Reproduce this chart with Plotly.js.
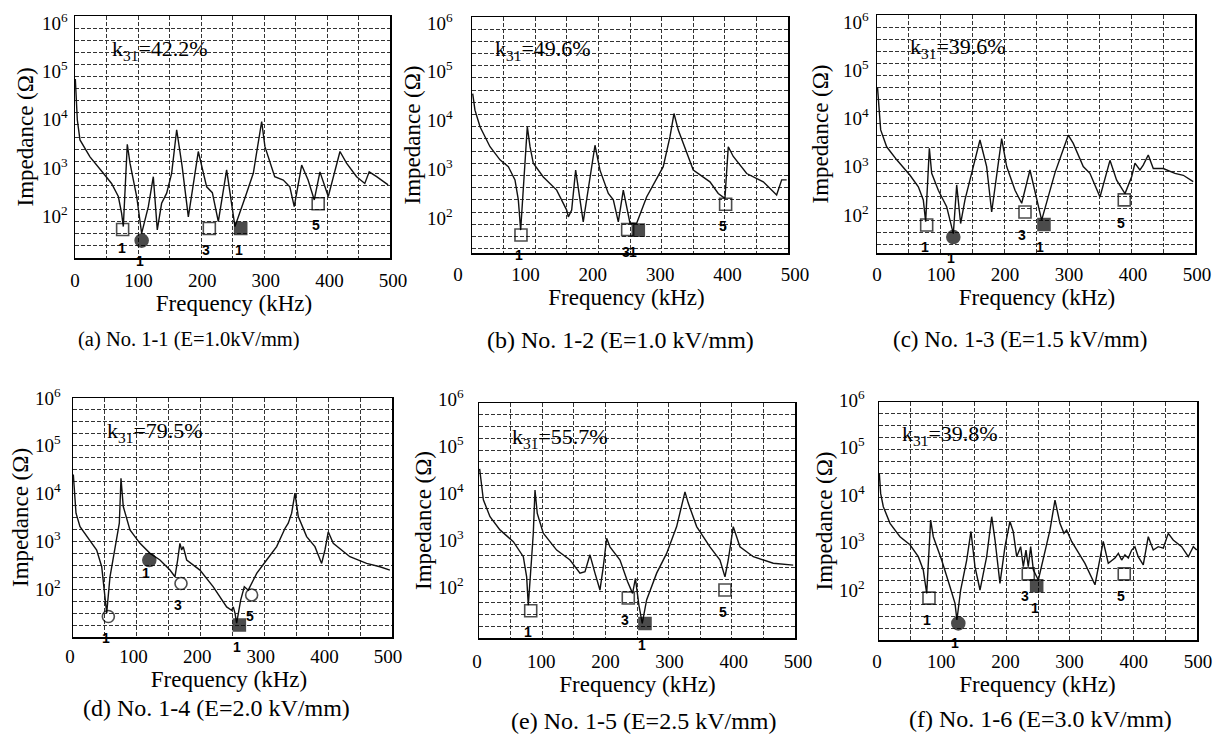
<!DOCTYPE html>
<html><head><meta charset="utf-8">
<script src="https://cdn.plot.ly/plotly-3.0.1.min.js"></script>
<style>html,body{margin:0;padding:0;background:#fff}#chart{width:1227px;height:734px}</style>
</head><body><div id="chart"></div>
<script>
// ---------------- DATA ----------------
const freqTickVals = [0, 100, 200, 300, 400, 500];
const freqTickText = ['0', '100', '200', '300', '400', '500'];
const freqGridVals = [0, 50, 100, 150, 200, 250, 300, 350, 400, 450, 500];
const logMinorExp = [1.25, 1.5, 1.75, 2.25, 2.5, 2.75, 3.25, 3.5, 3.75, 4.25, 4.5, 4.75, 5.25, 5.5, 5.75];
const decadeExp = [2, 3, 4, 5, 6];
const decadeText = ['10<sup>2</sup>', '10<sup>3</sup>', '10<sup>4</sup>', '10<sup>5</sup>', '10<sup>6</sup>'];

// impedance curves: frequency (kHz) and log10(|Z| / ohm)
const fA = [0.5, 3.7, 7.9, 13.2, 23.8, 45, 58, 68.8, 74, 76.7, 83, 87.3, 97.9, 105.8, 116.4, 124.3, 130.6, 137.5, 145.5, 153.4, 161.4, 170, 179.9, 195.7, 209, 218, 227.5, 240.7, 253.9, 270, 283, 296.3, 301.5, 317, 330.6, 341, 348, 359.8, 370, 379.8, 388.8, 402, 420.6, 431, 447, 460, 467, 478.8, 497];
const logZA = [4.7, 3.85, 3.44, 3.33, 3.09, 2.75, 2.54, 2.27, 1.92, 1.65, 3.35, 2.96, 2.27, 1.51, 2.06, 2.68, 1.58, 2.13, 2.34, 2.75, 3.65, 2.9, 1.85, 3.2, 2.47, 2.35, 1.75, 2.82, 1.65, 2.25, 2.75, 3.82, 3.3, 2.68, 2.61, 2.47, 2.06, 2.92, 2.61, 2.2, 2.78, 2.27, 3.2, 2.96, 2.68, 2.54, 2.78, 2.68, 2.51];

const fB = [1.1, 4.7, 12.7, 28.5, 44.3, 57.5, 68, 73.3, 77, 87.5, 91.8, 97, 112.8, 134, 149.8, 152.4, 157.7, 164, 176, 194.6, 202.5, 215.7, 223.6, 231.5, 239.4, 250, 260.5, 276.3, 302.6, 313.2, 319.6, 326.4, 350.1, 376.5, 389.6, 400.2, 405.5, 413.4, 434.6, 460.9, 482, 490, 497.9];
const logZB = [4.43, 4.09, 3.75, 3.34, 3.07, 2.93, 2.66, 2.25, 1.63, 3.75, 3.34, 3.0, 2.72, 2.45, 2.04, 1.9, 2.04, 2.86, 1.8, 3.37, 2.86, 2.38, 2.25, 1.8, 2.45, 1.77, 1.77, 2.31, 2.93, 3.54, 4.02, 3.68, 2.86, 2.62, 2.38, 2.28, 3.34, 3.14, 2.79, 2.62, 2.35, 2.66, 2.66];

const fC = [0.8, 2.1, 5.8, 15.2, 31, 51.9, 65, 72.8, 76.5, 82.3, 86, 96.4, 109.5, 120, 125.3, 131.5, 138.3, 151.4, 161.9, 172.4, 180.3, 196, 203.9, 217, 227.5, 240.5, 251, 258.9, 279.8, 300.7, 308.6, 324.3, 334.8, 350.6, 366.3, 376.8, 389.9, 400.4, 405.6, 413.4, 418.6, 426.5, 434.4, 450.1, 468.5, 481.6, 497.2];
const logZC = [4.5, 4.24, 3.62, 3.27, 3.0, 2.68, 2.44, 2.17, 1.72, 3.24, 2.72, 2.37, 2.03, 1.47, 2.48, 1.68, 2.17, 2.86, 3.41, 2.86, 1.92, 3.44, 2.86, 2.37, 2.1, 2.79, 2.17, 1.75, 2.73, 3.51, 3.34, 2.86, 2.72, 2.23, 2.99, 2.58, 2.3, 2.65, 2.93, 2.79, 2.89, 3.1, 2.82, 2.82, 2.72, 2.68, 2.55];

const fD = [0.5, 1.6, 4.7, 11, 26.6, 37.1, 45, 50.1, 52.8, 58, 65.8, 72.6, 75.2, 78.8, 89.3, 105, 120.7, 136.3, 152, 159.8, 164, 167.6, 170.3, 172.8, 178.2, 199, 219.9, 240.8, 248.6, 251.2, 253.9, 256.5, 262.8, 268.5, 274.7, 287.9, 303.5, 319.2, 332.2, 337.4, 342.7, 347.9, 353.1, 366.2, 379.2, 389.7, 394.9, 400.1, 407.9, 434, 460.2, 481.1, 496.7];
const logZD = [4.4, 4.15, 3.59, 3.31, 3.03, 2.82, 2.47, 1.91, 1.5, 2.26, 2.89, 3.38, 4.32, 3.73, 3.24, 2.96, 2.75, 2.61, 2.4, 2.26, 2.61, 2.96, 2.82, 2.89, 2.61, 2.4, 2.05, 1.63, 1.56, 1.63, 1.5, 1.29, 1.77, 2.05, 1.98, 2.33, 2.61, 2.89, 3.27, 3.38, 3.59, 4.01, 3.52, 3.1, 2.89, 2.54, 2.82, 3.2, 2.96, 2.68, 2.54, 2.47, 2.4];

const fE = [1, 2.6, 6.9, 17.4, 33.2, 54.3, 70.1, 75.4, 78, 83.4, 85.9, 88.6, 92.2, 101.7, 122.9, 144, 154.6, 159.8, 167.7, 175.6, 183.5, 191.4, 196.7, 202, 207.2, 223.1, 235, 243, 247.5, 253, 258.3, 265.2, 281.1, 296.9, 312.7, 322.2, 325.9, 331.1, 344.4, 365.4, 381.3, 389.2, 394.4, 402.3, 412.9, 434, 465.6, 497.2];
const logZE = [4.6, 4.43, 3.94, 3.58, 3.3, 3.05, 2.73, 2.3, 1.7, 2.73, 3.23, 4.15, 3.65, 3.23, 2.87, 2.66, 2.48, 2.38, 2.41, 2.77, 2.38, 2.02, 2.52, 3.12, 2.94, 2.66, 2.2, 1.95, 2.27, 1.7, 1.31, 1.81, 2.38, 2.8, 3.37, 3.94, 4.11, 3.87, 3.37, 2.94, 2.66, 2.3, 2.66, 3.37, 2.94, 2.73, 2.59, 2.55];

const fF = [0.5, 2.6, 6.8, 17.3, 33, 48.7, 61.8, 69.6, 75, 81.2, 85.4, 98.5, 111.6, 119.5, 122.5, 128.4, 137.9, 144.6, 150.9, 158.8, 169.3, 177.2, 182.4, 190.2, 198.1, 205.9, 211, 216.5, 222.7, 226.9, 231.1, 234.7, 238.5, 242.7, 250.5, 258.3, 268.8, 276.7, 284.5, 290.8, 295, 302.9, 310.8, 323.8, 339.6, 352.6, 360.5, 371, 376.3, 381.5, 386.7, 392, 397.3, 402.4, 407.6, 415.5, 423.4, 431.2, 439.1, 447, 454.8, 462.6, 475.8, 486.3, 494.2, 499.5];
const logZF = [4.5, 4.08, 3.8, 3.45, 3.17, 3.0, 2.75, 2.47, 1.98, 3.52, 3.17, 2.68, 2.12, 1.77, 1.42, 2.05, 2.68, 3.28, 2.54, 2.05, 2.75, 3.59, 3.1, 2.19, 2.96, 3.49, 3.28, 2.75, 2.96, 2.54, 2.89, 2.54, 2.96, 2.47, 2.26, 2.68, 3.31, 3.94, 3.45, 3.24, 3.31, 3.07, 2.89, 2.61, 2.16, 3.07, 2.61, 2.72, 2.82, 2.68, 2.79, 2.72, 2.89, 2.96, 2.75, 2.58, 3.17, 2.89, 2.96, 2.93, 3.24, 3.1, 2.96, 2.75, 2.96, 2.89];

// resonance markers: so = open square, fs = filled square, fc = filled circle, co = open circle
const mkTypeA = ['so', 'fc', 'so', 'fs', 'so'];
const mkFA = [75.6, 105.8, 213.2, 263, 386];
const mkLogA = [1.59, 1.36, 1.61, 1.61, 2.12];
const mkLblA = ['1', '1', '3', '1', '5'];

const mkTypeB = ['so', 'so', 'fs', 'so'];
const mkFB = [77.5, 246.3, 263.1, 401.3];
const mkLogB = [1.53, 1.64, 1.63, 2.16];
const mkLblB = ['1', '3', '1', '5'];

const mkTypeC = ['so', 'fc', 'so', 'fs', 'so'];
const mkFC = [78.1, 120, 232.7, 262.5, 388.8];
const mkLogC = [1.65, 1.4, 1.92, 1.66, 2.17];
const mkLblC = ['1', '1', '3', '1', '5'];

const mkTypeD = ['co', 'fc', 'co', 'fs', 'co'];
const mkFD = [55.4, 119.6, 169.3, 260.7, 280];
const mkLogD = [1.43, 2.61, 2.12, 1.25, 1.88];
const mkLblD = ['1', '1', '3', '1', '5'];

const mkTypeE = ['so', 'so', 'fs', 'so'];
const mkFE = [81.8, 236.2, 262.6, 389.2];
const mkLogE = [1.58, 1.85, 1.31, 2.02];
const mkLblE = ['1', '3', '1', '5'];

const mkTypeF = ['so', 'fc', 'so', 'fs', 'so'];
const mkFF = [78.6, 124.7, 234.7, 247.9, 385.6];
const mkLogF = [1.88, 1.35, 2.39, 2.14, 2.39];
const mkLblF = ['1', '1', '3', '1', '5'];

const k31Values = ['42.2', '49.6', '39.6', '79.5', '55.7', '39.8'];
const captionText = [
  '(a) No. 1-1 (E=1.0kV/mm)', '(b) No. 1-2 (E=1.0 kV/mm)', '(c) No. 1-3 (E=1.5 kV/mm)',
  '(d) No. 1-4 (E=2.0 kV/mm)', '(e) No. 1-5 (E=2.5 kV/mm)', '(f) No. 1-6 (E=3.0 kV/mm)'
];

// ---------------- LAYOUT CONFIG (pixels) ----------------
const W = 1227, H = 734;
const panels = [
  {f: fA, z: logZA, mt: mkTypeA, mf: mkFA, mz: mkLogA, ml: mkLblA, mdy: [19, 20, 22, 22, 21], mdx: [-1, -2, -3, -2, -2],
   L: 75, R: 390, T: 16, B: 258, lL: 75, lR: 393, ylo: 1.0, yShift: 7, yStand: 2, yTit: 2, xStand: 9, kF: 55, kZ: 5.3,
   cap: [189, 340, 20.5]},
  {f: fB, z: logZB, mt: mkTypeB, mf: mkFB, mz: mkLogB, ml: mkLblB, mdy: [20, 22, 22, 22], mdx: [-2, -2, -5, -3],
   L: 472, R: 788, T: 17, B: 253, lL: 458, lR: 795, ylo: 1.16, yShift: 6, yStand: 14, yTit: 0, xStand: 8, kF: 33, kZ: 5.32,
   cap: [621, 340, 24]},
  {f: fC, z: logZC, mt: mkTypeC, mf: mkFC, mz: mkLogC, ml: mkLblC, mdy: [22, 21, 23, 22, 23], mdx: [-2, -2, -3, -4, -3],
   L: 877, R: 1195, T: 15, B: 253, lL: 877, lR: 1197, ylo: 1.07, yShift: 7, yStand: 3, yTit: 8, xStand: 8, kF: 49, kZ: 5.32,
   cap: [1020, 340, 23]},
  {f: fD, z: logZD, mt: mkTypeD, mf: mkFD, mz: mkLogD, ml: mkLblD, mdy: [22, 13, 22, 22, 21], mdx: [-2, -3, -3, -2, -2],
   L: 73, R: 392, T: 398, B: 637, lL: 70, lR: 388, ylo: 1.0, yShift: 0, yStand: 7, yTit: 0, xStand: 6, kF: 50, kZ: 5.29,
   cap: [216, 708, 24]},
  {f: fE, z: logZE, mt: mkTypeE, mf: mkFE, mz: mkLogE, ml: mkLblE, mdy: [21, 22, 22, 22], mdx: [-3, -3, -3, -2],
   L: 479, R: 795, T: 403, B: 638, lL: 477, lR: 798, ylo: 1.0, yShift: -4, yStand: 10, yTit: 0, xStand: 10, kF: 49, kZ: 5.26,
   cap: [643, 721, 24]},
  {f: fF, z: logZF, mt: mkTypeF, mf: mkFF, mz: mkLogF, ml: mkLblF, mdy: [22, 20, 22, 22, 22], mdx: [-2, -3, -3, -2, -3],
   L: 879, R: 1197, T: 402, B: 640, lL: 877, lR: 1198, ylo: 1.0, yShift: -2, yStand: 9, yTit: 0, xStand: 8, kF: 33, kZ: 5.31,
   cap: [1040, 719, 24]}
];

const SERIF = '"Liberation Serif", "Times New Roman", Times, serif';
const SANS = '"Liberation Sans", Arial, sans-serif';
const symbolOf = {so: 'square-open', fs: 'square', fc: 'circle', co: 'circle-open'};
const sizeOf = {so: 12, fs: 12, fc: 13, co: 12};
const GRID = '#333333';
const gridStyle = {showgrid: true, gridcolor: GRID, gridwidth: 1, griddash: '4px,2px', ticks: ''};

const data = [];
const layout = {
  width: W, height: H, margin: {l: 0, r: 0, t: 0, b: 0},
  paper_bgcolor: '#ffffff', plot_bgcolor: 'rgba(0,0,0,0)',
  showlegend: false, annotations: [], font: {family: SERIF, color: '#000'}
};

panels.forEach((p, i) => {
  const n = i + 1, m = i + 7;
  const xs = n === 1 ? '' : String(n), ms = String(m);
  const xd = [p.L / W, p.R / W];
  const yd = [1 - p.B / H, 1 - p.T / H];

  // main impedance curve
  data.push({
    type: 'scatter', mode: 'lines', x: p.f, y: p.z.map(v => Math.pow(10, v)),
    xaxis: 'x' + xs, yaxis: 'y' + xs, line: {color: '#111', width: 1.4},
    hoverinfo: 'x+y', cliponaxis: true
  });
  // resonance markers
  data.push({
    type: 'scatter', mode: 'markers', x: p.mf, y: p.mz.map(v => Math.pow(10, v)),
    xaxis: 'x' + xs, yaxis: 'y' + xs, cliponaxis: false,
    marker: {symbol: p.mt.map(t => symbolOf[t]), size: p.mt.map(t => sizeOf[t]), color: '#000',
             line: {color: '#000', width: 1.6}}
  });
  // invisible carrier for the tick-label axis
  data.push({
    type: 'scatter', mode: 'none', x: [freqTickVals[0], freqTickVals[freqTickVals.length - 1]], y: [0.5, 0.5],
    xaxis: 'x' + ms, yaxis: 'y' + ms, hoverinfo: 'skip'
  });

  layout['xaxis' + xs] = {
    domain: xd, range: [0, 500], anchor: 'y' + xs,
    tickmode: 'array', tickvals: [], showticklabels: false, ticks: '', showgrid: false,
    minor: Object.assign({tickmode: 'array', tickvals: freqGridVals}, gridStyle),
    showline: true, mirror: true, linecolor: '#000', linewidth: 1.5, zeroline: false, fixedrange: true
  };
  const inRange = decadeExp.map((e, k) => k).filter(k => decadeExp[k] >= p.ylo);
  layout['yaxis' + xs] = Object.assign({}, gridStyle, {
    domain: yd, type: 'log', range: [p.ylo, 6], anchor: 'x' + xs,
    tickmode: 'array', tickvals: inRange.map(k => Math.pow(10, decadeExp[k])), ticktext: inRange.map(k => decadeText[k]),
    tickfont: {family: SERIF, size: 19, color: '#000'},
    ticklabelshift: p.yShift, ticklabelstandoff: p.yStand,
    minor: Object.assign({tickmode: 'array', tickvals: logMinorExp.filter(e => e > p.ylo).map(e => Math.pow(10, e))}, gridStyle),
    showline: true, mirror: true, linecolor: '#000', linewidth: 1.5, zeroline: false, fixedrange: true,
    title: {text: 'Impedance (Ω)', font: {family: SERIF, size: 23, color: '#000'}, standoff: p.yTit}
  });
  layout['xaxis' + ms] = {
    domain: [p.lL / W, p.lR / W], range: [0, 500], anchor: 'y' + ms,
    tickmode: 'array', tickvals: freqTickVals, ticktext: freqTickText, ticks: '',
    tickfont: {family: SERIF, size: 19, color: '#000'}, ticklabelstandoff: p.xStand,
    showgrid: false, showline: false, zeroline: false, fixedrange: true,
    title: {text: 'Frequency (kHz)', font: {family: SERIF, size: 23, color: '#000'}, standoff: 2}
  };
  layout['yaxis' + ms] = {domain: yd, range: [0, 1], anchor: 'x' + ms, visible: false, fixedrange: true,
    showticklabels: false, tickmode: 'array', tickvals: [], showgrid: false, zeroline: false, showline: false};

  // k31 label
  layout.annotations.push({
    xref: 'x' + xs, yref: 'y' + xs, x: p.kF, y: p.kZ, xanchor: 'left', yanchor: 'middle',
    text: 'k<sub>31</sub>=' + k31Values[i] + '%', showarrow: false,
    font: {family: SERIF, size: 22, color: '#000'}
  });
  // marker numbers
  p.ml.forEach((lbl, j) => {
    layout.annotations.push({
      xref: 'x' + xs, yref: 'y' + xs, x: p.mf[j], y: p.mz[j], text: lbl, showarrow: false,
      xshift: p.mdx[j], yshift: -p.mdy[j], xanchor: 'center', yanchor: 'middle',
      font: {family: SANS, size: 14, color: '#000', weight: 'bold'}
    });
  });
  // caption
  layout.annotations.push({
    xref: 'paper', yref: 'paper', x: p.cap[0] / W, y: 1 - p.cap[1] / H, xanchor: 'center', yanchor: 'middle',
    text: captionText[i], showarrow: false, font: {family: SERIF, size: p.cap[2], color: '#000'}
  });
});

Plotly.newPlot('chart', data, layout, {displayModeBar: false, staticPlot: true});
</script>
</body></html>
